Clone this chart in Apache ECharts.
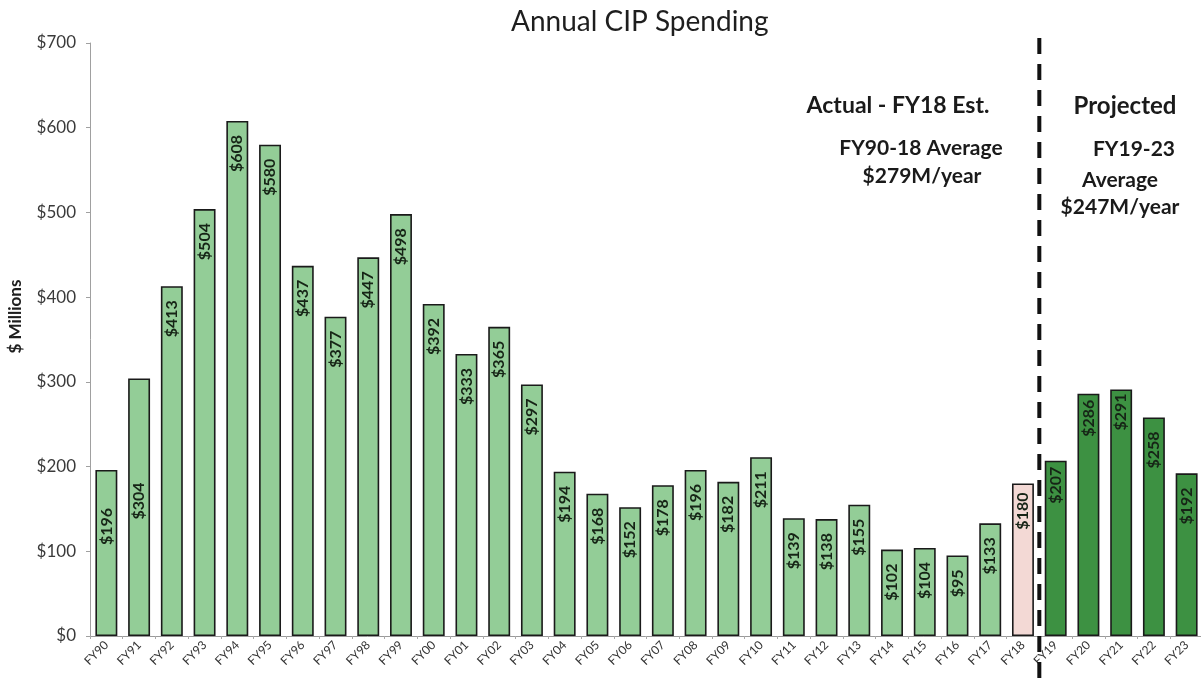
<!DOCTYPE html>
<html>
<head>
<meta charset="utf-8">
<title>Annual CIP Spending</title>
<script src="https://cdn.jsdelivr.net/npm/echarts@6/dist/echarts.min.js"></script>
<style>
  html, body { margin: 0; padding: 0; background: #ffffff; }
  #chart { width: 1201px; height: 679px; }
</style>
</head>
<body>
<div id="chart"></div>
<script>
// Fiscal years, FY90 through FY23
const categories = [
  'FY90','FY91','FY92','FY93','FY94','FY95','FY96','FY97','FY98','FY99',
  'FY00','FY01','FY02','FY03','FY04','FY05','FY06','FY07','FY08','FY09',
  'FY10','FY11','FY12','FY13','FY14','FY15','FY16','FY17','FY18','FY19',
  'FY20','FY21','FY22','FY23'
];

// Spending in $ millions
const actualValues = [
  196, 304, 413, 504, 608, 580, 437, 377, 447, 498,
  392, 333, 365, 297, 194, 168, 152, 178, 196, 182,
  211, 139, 138, 155, 102, 104, 95, 133
];                                   // FY90 - FY17
const estimateValues = [180];        // FY18 estimate
const projectedValues = [207, 286, 291, 258, 192]; // FY19 - FY23

const yTicks = [0, 100, 200, 300, 400, 500, 600, 700];

// Colour for each group of years
const COLORS = { actual: '#93cd97', estimate: '#f3d9d5', projected: '#3d9142' };

// How far below the bar top each value label starts (px)
const LABEL_GAP_DEFAULT = 14;
const labelGap = { FY90: 38, FY91: 104, FY18: 9, FY19: 6, FY20: 6, FY21: 4 };

const values = actualValues.concat(estimateValues, projectedValues);
const groups = actualValues.map(() => 'actual')
  .concat(estimateValues.map(() => 'estimate'), projectedValues.map(() => 'projected'));

const barData = values.map((v, i) => ({
  value: v,
  itemStyle: { color: COLORS[groups[i]] },
  label: { distance: labelGap[categories[i]] !== undefined ? labelGap[categories[i]] : LABEL_GAP_DEFAULT }
}));

const FONT = 'Lato, "Open Sans", sans-serif';

const chart = echarts.init(document.getElementById('chart'), null, { renderer: 'canvas' });

chart.setOption({
  animation: false,
  backgroundColor: '#ffffff',
  textStyle: { fontFamily: FONT },
  title: {
    text: 'Annual CIP Spending',
    left: 506,
    top: 3,
    textStyle: { fontFamily: FONT, fontSize: 28, fontWeight: 'normal', color: '#1e1e1e' }
  },
  grid: { left: 90, width: 1113, top: 43, bottom: 43, containLabel: false, outerBoundsMode: 'none' },
  xAxis: {
    type: 'category',
    data: categories,
    axisLine: { lineStyle: { color: '#9a9a9a', width: 1 } },
    axisTick: { show: true, alignWithLabel: false, length: 3, lineStyle: { color: '#aaaaaa' } },
    axisLabel: { rotate: 45, fontSize: 12, color: '#333333', margin: 7, interval: 0, fontFamily: FONT }
  },
  yAxis: {
    type: 'value',
    min: yTicks[0],
    max: yTicks[yTicks.length - 1],
    interval: 100,
    name: '$ Millions',
    nameLocation: 'middle',
    nameGap: 66,
    nameTextStyle: { fontFamily: FONT, fontSize: 17, fontWeight: 'bold', color: '#1e1e1e', padding: [0, 0, 0, 46] },
    splitLine: { show: false },
    axisLine: { show: true, lineStyle: { color: '#a0a0a0', width: 1 } },
    axisTick: { show: true, length: 4, lineStyle: { color: '#a0a0a0' } },
    axisLabel: { fontSize: 17, color: '#3a3a3a', margin: 14, fontFamily: FONT, formatter: v => '$' + v }
  },
  series: [{
    type: 'bar',
    data: barData,
    barCategoryGap: '33%',
    itemStyle: { borderColor: '#1a1a1a', borderWidth: 1.6 },
    label: {
      show: true,
      position: 'insideTop',
      rotate: 90,
      align: 'right',
      verticalAlign: 'middle',
      fontFamily: FONT,
      fontSize: 16,
      fontWeight: 'bold',
      color: '#162416',
      formatter: p => '$' + p.value
    }
  }]
});

// Dashed divider between the FY18 estimate and the projected years,
// plus the section annotations on either side of it.
function drawOverlay() {
  const xA = chart.convertToPixel({ xAxisIndex: 0 }, 'FY18');
  const xB = chart.convertToPixel({ xAxisIndex: 0 }, 'FY19');
  const xDiv = (xA + xB) / 2;
  const bold = (text, x, y, size) => ({
    type: 'text', x: x, y: y,
    style: { text: text, fontFamily: FONT, fontSize: size, fontWeight: 'bold', fill: '#1a1a1a', align: 'center', verticalAlign: 'middle' }
  });
  chart.setOption({
    graphic: [
      {
        type: 'line', z: 100,
        shape: { x1: xDiv, y1: 38, x2: xDiv, y2: 679 },
        style: { stroke: '#111111', lineWidth: 4, lineDash: [16, 10] }
      },
      bold('Actual - FY18 Est.', 898, 106, 23),
      bold('FY90-18 Average', 921, 148, 21),
      bold('$279M/year', 922, 176, 21),
      bold('Projected', 1125, 106, 24),
      bold('FY19-23', 1134, 149, 21),
      bold('Average', 1120, 180, 21),
      bold('$247M/year', 1120, 207, 21)
    ]
  });
}
drawOverlay();
</script>
</body>
</html>
